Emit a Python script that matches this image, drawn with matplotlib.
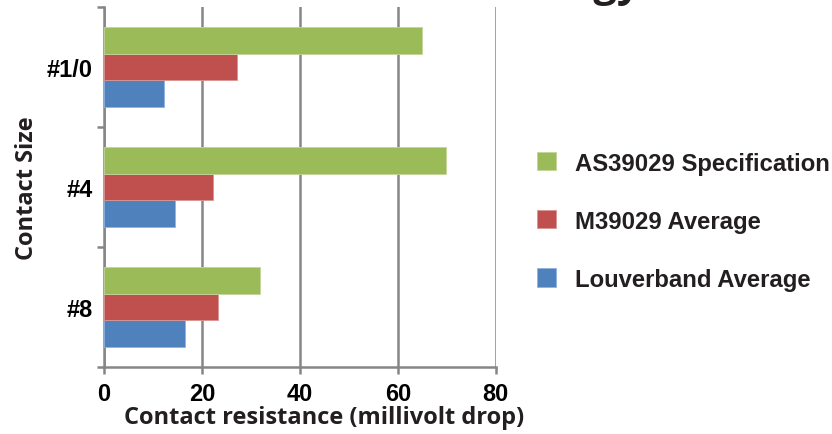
import matplotlib
matplotlib.use("Agg")
import matplotlib.pyplot as plt
import numpy as np

# data
sizes      = ['#8', '#4', '#1/0']
louverband = [16.5, 14.5, 12.2]
m39029     = [23.3, 22.3, 27.2]
as39029    = [31.8, 69.8, 65.0]

c_blue  = '#4F81BD'
c_red   = '#C0504D'
c_green = '#9BBB59'
grid_c  = '#868686'

fig = plt.figure(figsize=(8.32, 4.35), dpi=100)
ax  = fig.add_axes([0.125, 0.154, 0.471, 0.828])

y  = np.arange(len(sizes))
bh = 2.0/9.0
ax.barh(y - bh, louverband, height=bh, color=c_blue,  edgecolor='#8DB3E2', lw=0.6, label='Louverband Average', zorder=3)
ax.barh(y,      m39029,     height=bh, color=c_red,   edgecolor='#D99694', lw=0.6, label='M39029 Average', zorder=3)
ax.barh(y + bh, as39029,    height=bh, color=c_green, edgecolor='#C3D69B', lw=0.6, label='AS39029 Specification', zorder=3)

ax.set_xlim(0, 80)
ax.set_ylim(-0.5, 2.5)
ax.set_xticks([0, 20, 40, 60, 80])
ax.xaxis.grid(True, color=grid_c, lw=1.8, zorder=0)

# category separators as major ticks, labels on minor ticks
ax.set_yticks([-0.5, 0.5, 1.5, 2.5])
ax.set_yticklabels([])
ax.set_yticks(y, minor=True)
ax.set_yticklabels(sizes, minor=True)
ax.tick_params(axis='y', which='minor', length=0, pad=8)
ax.tick_params(axis='y', which='major', length=5, width=1.8, color=grid_c, direction='out')
ax.tick_params(axis='x', length=5, width=1.8, color=grid_c, direction='out', pad=6)

for lab in ax.get_xticklabels() + ax.get_yticklabels(minor=True):
    lab.set_fontfamily('Liberation Sans')
    lab.set_fontweight('bold')
    lab.set_fontsize(17)

for s in ['top', 'right']:
    ax.spines[s].set_visible(False)
for s in ['left', 'bottom']:
    ax.spines[s].set_color(grid_c)
    ax.spines[s].set_linewidth(1.8)

ax.set_xlabel('Contact resistance (millivolt drop)', fontfamily='Open Sans', fontweight='bold',
              fontsize=17, color='#231F20', labelpad=2)
ax.xaxis.set_label_coords(0.561, -0.105)
ax.set_ylabel('Contact Size', fontfamily='Open Sans', fontweight='bold',
              fontsize=17, color='#231F20', labelpad=6)

h, l = ax.get_legend_handles_labels()
leg = ax.legend(h[::-1], l[::-1], loc='center left', bbox_to_anchor=(1.074, 0.405),
                frameon=False, handlelength=0.8, handleheight=0.8, labelspacing=1.47,
                handletextpad=0.8, borderpad=0,
                prop={'family': 'Liberation Sans', 'weight': 'bold', 'size': 17.2})
for t in leg.get_texts():
    t.set_color('#231F20')

# title cut off at the top of the picture
fig.text(0.77, 1.0 + 4/435, 'Technology', ha='right', va='baseline', fontfamily='Open Sans',
         fontweight='bold', fontsize=30, color='#231F20')

fig.savefig('out.png', dpi=100)
